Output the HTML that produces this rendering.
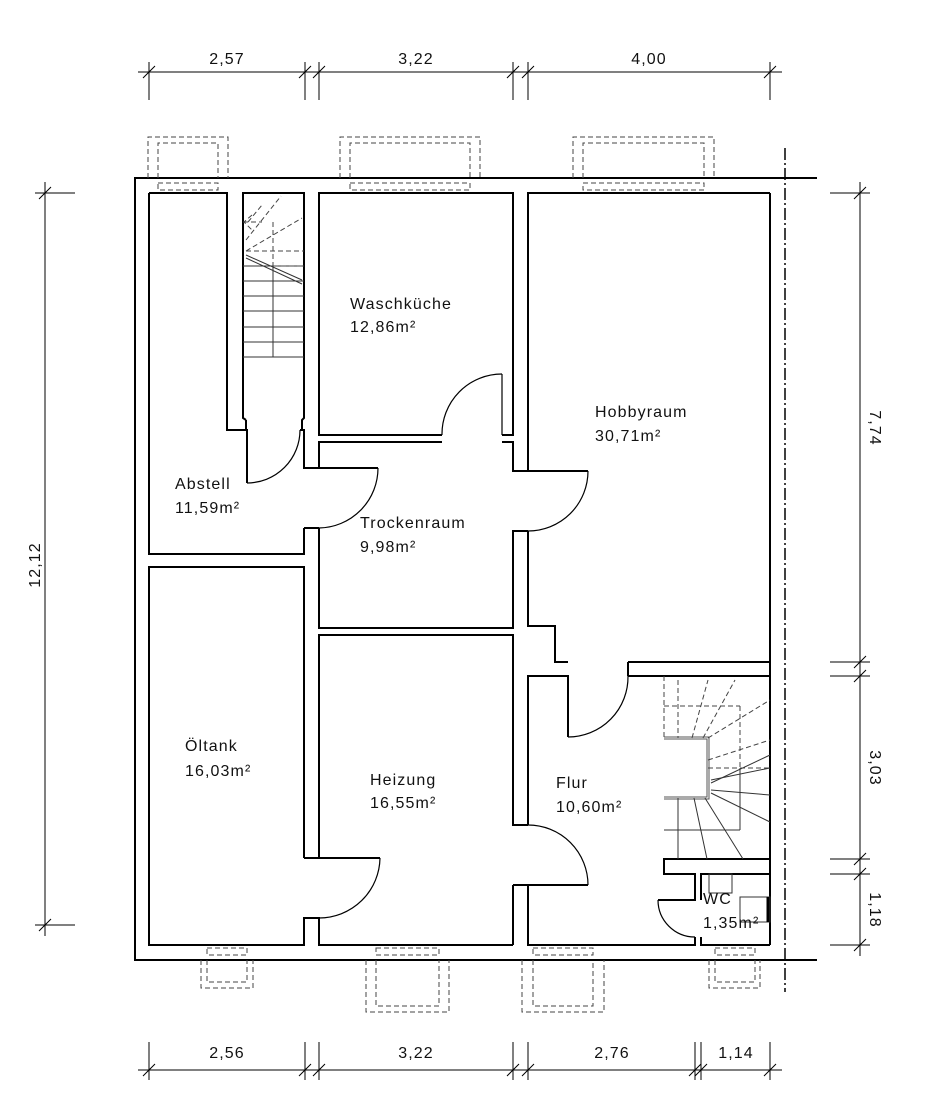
<!DOCTYPE html>
<html><head><meta charset="utf-8"><style>
html,body{margin:0;padding:0;background:#fff}
svg{display:block}
text{font-family:"Liberation Sans",sans-serif;font-size:16px;fill:#111;letter-spacing:1.1px}
.w{fill:none;stroke:#000;stroke-width:2}
.t{fill:none;stroke:#000;stroke-width:1.2}
.d{fill:none;stroke:#444;stroke-width:1;stroke-dasharray:5,3}
.s{fill:none;stroke:#333;stroke-width:1}
</style></head><body>
<svg width="936" height="1120" viewBox="0 0 936 1120" xmlns="http://www.w3.org/2000/svg">
<polyline class="w" points="817,178 135,178 135,960 817,960"/>
<line x1="785" y1="148" x2="785" y2="992" stroke="#000" stroke-width="1.5" stroke-dasharray="12,3,2,3"/>
<line class="w" x1="770" y1="193" x2="770" y2="945"/>

<polyline class="w" points="149,193 227,193 227,430 247,430 247,483"/>
<path class="t" d="M247,483 A53,53 0 0 0 300,430"/>
<polyline class="w" points="300,430 304,430 304,468 378,468"/>
<path class="t" d="M378,468 A60,60 0 0 1 319,528"/>
<polyline class="w" points="304,528 304,554 149,554 149,193"/>
<line class="w" x1="304" y1="528" x2="319" y2="528"/>
<polyline class="w" points="246,420 243,418 243,193 304,193 304,418 302,420 302,430"/>
<line class="w" x1="246" y1="420" x2="246" y2="430"/>
<g class="s">
<line x1="243" y1="266" x2="304" y2="266"/><line x1="243" y1="281" x2="304" y2="281"/>
<line x1="243" y1="296" x2="304" y2="296"/><line x1="243" y1="311" x2="304" y2="311"/>
<line x1="243" y1="327" x2="304" y2="327"/><line x1="243" y1="342" x2="304" y2="342"/>
<line x1="243" y1="357" x2="304" y2="357"/><line x1="273" y1="266" x2="273" y2="357"/>
<line x1="246" y1="255" x2="302" y2="280"/><line x1="246" y1="258" x2="302" y2="284"/>
</g>
<g class="d">
<line x1="246" y1="251" x2="304" y2="251"/><line x1="273" y1="266" x2="304" y2="266"/>
<line x1="273" y1="222" x2="273" y2="266"/><line x1="246" y1="251" x2="302" y2="218"/>
<line x1="246" y1="240" x2="281" y2="196"/><line x1="248" y1="222" x2="262" y2="205"/>
<line x1="243" y1="222" x2="262" y2="222"/><polyline points="252,215 244,222 252,230"/>
</g>

<polyline class="w" points="442,435 319,435 319,193 513,193 513,435 502,435"/>
<line class="t" x1="502" y1="374" x2="502" y2="435"/>
<path class="t" d="M442,435 A60,60 0 0 1 502,374"/>

<polyline class="w" points="319,468 319,442 442,442"/>
<polyline class="w" points="502,442 513,442 513,471 528,471 588,471"/>
<path class="t" d="M588,471 A60,60 0 0 1 528,531"/>
<polyline class="w" points="319,528 319,628 513,628 513,531 528,531"/>

<polyline class="w" points="528,471 528,193 770,193"/>
<polyline class="w" points="528,531 528,626 555,626 555,662 568,662"/>
<polyline class="w" points="628,662 770,662"/>

<polyline class="w" points="304,858 304,567 149,567 149,945 304,945 304,918 319,918 319,945 513,945"/>
<polyline class="w" points="304,858 380,858"/>
<path class="t" d="M380,858 A61,61 0 0 1 319,918"/>

<polyline class="w" points="319,858 319,635 513,635 513,825 528,825"/>
<polyline class="w" points="513,885 588,885"/>
<path class="t" d="M528,825 A60,60 0 0 1 588,885"/>
<polyline class="w" points="513,885 513,945"/>

<polyline class="w" points="528,825 528,676 568,676 568,737"/>
<path class="t" d="M568,737 A60,60 0 0 0 628,676"/>
<polyline class="w" points="628,676 628,662"/>
<polyline class="w" points="628,676 770,676"/>
<polyline class="w" points="528,885 528,945 695,945 695,937"/>
<polyline class="w" points="770,859 664,859 664,874 695,874 695,900 658,900"/>
<path class="t" d="M658,900 A37,37 0 0 0 695,937"/>
<polyline class="w" points="701,937 701,945 770,945"/>
<polyline class="w" points="701,900 701,874 770,874"/>
<rect class="s" x="709" y="874" width="23" height="19"/>
<rect class="s" x="740" y="897" width="30" height="25"/>
<line x1="768" y1="897" x2="768" y2="922" stroke="#000" stroke-width="3"/>

<polyline fill="none" stroke="#555" stroke-width="3" points="664,738 708,738 708,798 664,798"/>
<polyline fill="none" stroke="#fff" stroke-width="1" points="664,738 708,738 708,798 664,798"/>
<g class="s">
<line x1="664" y1="830" x2="740" y2="830"/><line x1="740" y1="768" x2="740" y2="830"/>
<line x1="678" y1="798" x2="678" y2="859"/><line x1="694" y1="798" x2="707" y2="859"/>
<line x1="705" y1="798" x2="743" y2="859"/><line x1="711" y1="793" x2="770" y2="822"/>
<line x1="711" y1="790" x2="770" y2="795"/><line x1="711" y1="780" x2="770" y2="768"/>
<line x1="711" y1="783" x2="770" y2="755"/>
</g>
<g class="d">
<line x1="664" y1="706" x2="740" y2="706"/><line x1="740" y1="706" x2="740" y2="768"/>
<line x1="664" y1="676" x2="664" y2="738"/><line x1="678" y1="680" x2="678" y2="738"/>
<line x1="708" y1="738" x2="770" y2="700"/><line x1="708" y1="760" x2="770" y2="740"/>
<line x1="703" y1="738" x2="735" y2="680"/><line x1="692" y1="738" x2="708" y2="680"/>
<line x1="708" y1="768" x2="770" y2="768"/>
</g>

<g class="d">
<polyline points="148,178 148,137 228,137 228,178"/><polyline points="158,178 158,143 218,143 218,178"/>
<rect x="158" y="183" width="60" height="7"/>
<polyline points="340,178 340,137 480,137 480,178"/><polyline points="350,178 350,143 470,143 470,178"/>
<rect x="350" y="183" width="120" height="7"/>
<polyline points="573,178 573,137 714,137 714,178"/><polyline points="583,178 583,143 704,143 704,178"/>
<rect x="583" y="183" width="121" height="7"/>
<polyline points="201,960 201,988 253,988 253,960"/><polyline points="207,960 207,982 247,982 247,960"/>
<rect x="207" y="948" width="40" height="7"/>
<polyline points="366,960 366,1012 449,1012 449,960"/><polyline points="376,960 376,1006 439,1006 439,960"/>
<rect x="376" y="948" width="63" height="7"/>
<polyline points="522,960 522,1012 604,1012 604,960"/><polyline points="533,960 533,1006 593,1006 593,960"/>
<rect x="533" y="948" width="60" height="7"/>
<polyline points="709,960 709,988 760,988 760,960"/><polyline points="715,960 715,982 755,982 755,960"/>
<rect x="715" y="948" width="40" height="7"/>
</g>

<g stroke="#000" stroke-width="1" fill="none">
<line x1="138" y1="72" x2="782" y2="72"/>
<line x1="149" y1="62" x2="149" y2="100"/><line x1="305" y1="62" x2="305" y2="100"/><line x1="319" y1="62" x2="319" y2="100"/>
<line x1="513" y1="62" x2="513" y2="100"/><line x1="528" y1="62" x2="528" y2="100"/><line x1="770" y1="62" x2="770" y2="100"/>
<path d="M143,78 L155,66 M299,78 L311,66 M313,78 L325,66 M507,78 L519,66 M522,78 L534,66 M764,78 L776,66"/>
<line x1="138" y1="1070" x2="782" y2="1070"/>
<line x1="149" y1="1042" x2="149" y2="1080"/><line x1="305" y1="1042" x2="305" y2="1080"/><line x1="319" y1="1042" x2="319" y2="1080"/>
<line x1="513" y1="1042" x2="513" y2="1080"/><line x1="528" y1="1042" x2="528" y2="1080"/><line x1="695" y1="1042" x2="695" y2="1080"/>
<line x1="701" y1="1042" x2="701" y2="1080"/><line x1="770" y1="1042" x2="770" y2="1080"/>
<path d="M143,1076 L155,1064 M299,1076 L311,1064 M313,1076 L325,1064 M507,1076 L519,1064 M522,1076 L534,1064 M689,1076 L701,1064 M695,1076 L707,1064 M764,1076 L776,1064"/>
<line x1="45" y1="182" x2="45" y2="936"/>
<line x1="35" y1="193" x2="75" y2="193"/><line x1="35" y1="925" x2="75" y2="925"/>
<path d="M39,199 L51,187 M39,931 L51,919"/>
<line x1="860" y1="182" x2="860" y2="956"/>
<line x1="830" y1="193" x2="870" y2="193"/><line x1="830" y1="662" x2="870" y2="662"/><line x1="830" y1="676" x2="870" y2="676"/>
<line x1="830" y1="859" x2="870" y2="859"/><line x1="830" y1="874" x2="870" y2="874"/><line x1="830" y1="945" x2="870" y2="945"/>
<path d="M854,199 L866,187 M854,668 L866,656 M854,682 L866,670 M854,865 L866,853 M854,880 L866,868 M854,951 L866,939"/>
</g>
<text x="227" y="64" text-anchor="middle">2,57</text>
<text x="416" y="64" text-anchor="middle">3,22</text>
<text x="649" y="64" text-anchor="middle">4,00</text>
<text x="227" y="1058" text-anchor="middle">2,56</text>
<text x="416" y="1058" text-anchor="middle">3,22</text>
<text x="612" y="1058" text-anchor="middle">2,76</text>
<text x="736" y="1058" text-anchor="middle">1,14</text>
<text transform="translate(40,565) rotate(-90)" text-anchor="middle">12,12</text>
<text transform="translate(870,428) rotate(90)" text-anchor="middle">7,74</text>
<text transform="translate(870,768) rotate(90)" text-anchor="middle">3,03</text>
<text transform="translate(870,910) rotate(90)" text-anchor="middle">1,18</text>

<text x="350" y="309">Waschküche</text><text x="350" y="332">12,86m²</text>
<text x="595" y="417">Hobbyraum</text><text x="595" y="441">30,71m²</text>
<text x="175" y="489">Abstell</text><text x="175" y="513">11,59m²</text>
<text x="360" y="528">Trockenraum</text><text x="360" y="552">9,98m²</text>
<text x="185" y="751">Öltank</text><text x="185" y="776">16,03m²</text>
<text x="370" y="785">Heizung</text><text x="370" y="808">16,55m²</text>
<text x="556" y="788">Flur</text><text x="556" y="812">10,60m²</text>
<text x="703" y="904">WC</text><text x="703" y="928">1,35m²</text>
</svg>
</body></html>
